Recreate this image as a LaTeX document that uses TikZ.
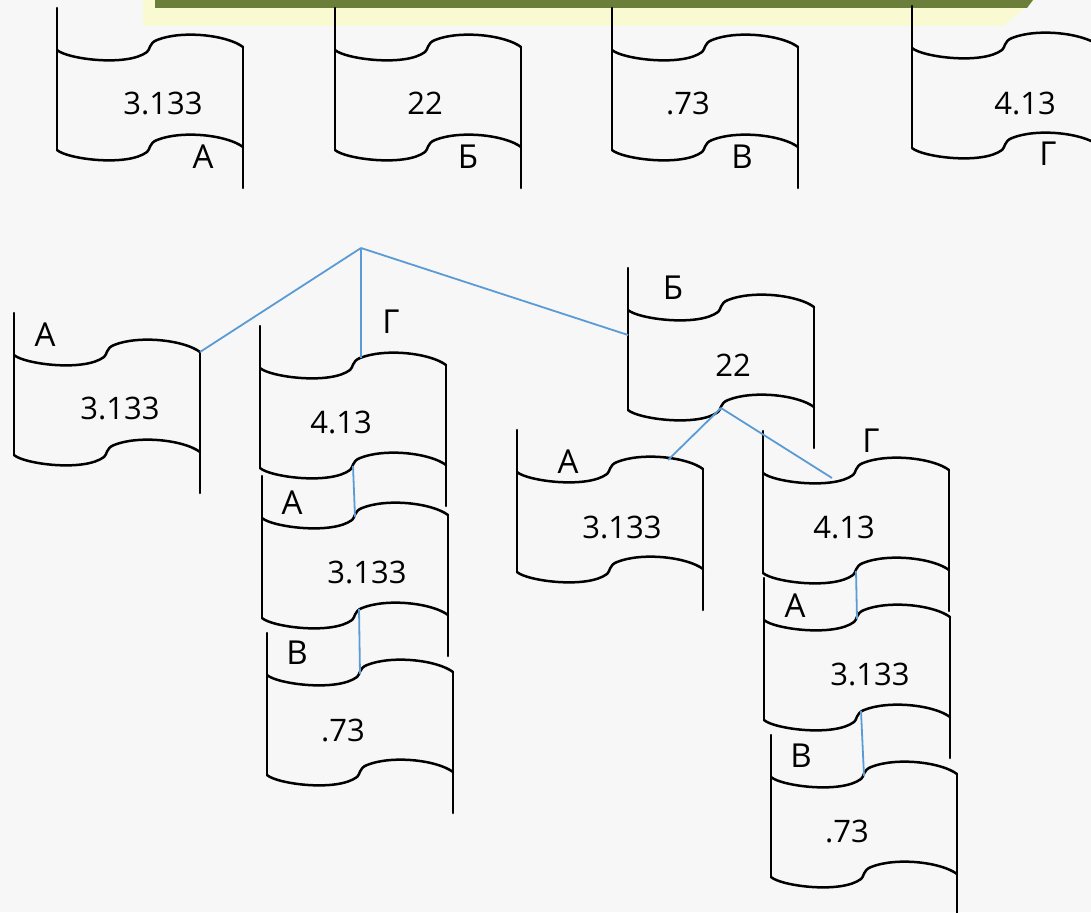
\documentclass[tikz,border=0pt]{standalone}
\usepackage{fontspec}
\setmainfont{Open Sans}
\definecolor{bgcol}{HTML}{F7F7F7}
\definecolor{bannergreen}{HTML}{6B7F3B}
\definecolor{bannercream}{HTML}{FAFAD2}
\definecolor{linkblue}{HTML}{5B9BD5}

\tikzset{
  scrollline/.style={line width=2.5pt, line join=round, line cap=round, black},
  link/.style={line width=1.8pt, linkblue},
  val/.style={font=\fontsize{31}{36}\selectfont, inner sep=0pt},
  tag/.style={font=\fontsize{33}{36}\selectfont, inner sep=0pt},
  % a scroll: origin at the top-left corner of the wavy top edge
  scroll/.pic={
    \draw[scrollline] (0,-42) -- (0,100);
    \draw[scrollline] (186,-3) -- (186,138);
    \draw[scrollline] (0,0) .. controls (10,9) and (70,17) .. (90,2)
      .. controls (93,0) and (92,-7) .. (100,-10)
      .. controls (125,-20) and (170,-15) .. (186,-3);
    \draw[scrollline] (0,100) .. controls (10,109) and (70,117) .. (90,102)
      .. controls (93,100) and (92,93) .. (100,90)
      .. controls (125,80) and (170,85) .. (186,97);
    \coordinate (-tr) at (186,-3);
    \coordinate (-bump) at (101,-10);
    \coordinate (-lmid) at (0,25);
    \coordinate (-arc) at (151,-12);
    \coordinate (-dip) at (69,5);
    \coordinate (-tnotch) at (93,-1);
    \coordinate (-bnotch) at (93,98);
    \coordinate (-bbump) at (97,91);
  }
}

\begin{document}
\begin{tikzpicture}[x=1pt, y=-1pt]
  % page and background
  \fill[bgcol] (0,0) rectangle (1091,912);
  \useasboundingbox (0,0) rectangle (1091,912);
  \clip (0,0) rectangle (1091,912);

  % title banner
  \fill[bannercream] (143,0) -- (1035,0) -- (1003,26) -- (143,26) -- cycle;
  \fill[bannergreen] (155,0) -- (1033,0) -- (1027,8) -- (155,8) -- cycle;

  % top row of scrolls
  \pic (topA) at (57,50) {scroll};
  \pic (topB) at (335,50) {scroll};
  \pic (topV) at (612,50) {scroll};
  \pic (topG) at (912,48) {scroll};
  \node[val] (topAv) at (163,103) {3.133};
  \node[tag] (topAt) at (203,157) {А};
  \node[val] (topBv) at (425,103) {22};
  \node[tag] (topBt) at (468,157) {Б};
  \node[val] (topVv) at (688,103) {.73};
  \node[tag] (topVt) at (742,157) {В};
  \node[val] (topGv) at (1025,103) {4.13};
  \node[tag] (topGt) at (1048,154) {Г};

  % tree of scrolls
  \pic (leftA) at (14,355) {scroll};
  \node[tag] (leftAt) at (45,335) {А};
  \node[val] (leftAv) at (120,408) {3.133};

  \pic (s1G) at (260,368) {scroll};
  \pic (s1A) at (262,518) {scroll};
  \pic (s1V) at (267,675) {scroll};
  \node[tag] (s1Gt) at (391,322) {Г};
  \node[val] (s1Gv) at (341,422) {4.13};
  \node[tag] (s1At) at (292,503) {А};
  \node[val] (s1Av) at (367,572) {3.133};
  \node[tag] (s1Vt) at (297,653) {В};
  \node[val] (s1Vv) at (343,730) {.73};

  \pic (B2) at (628,310) {scroll};
  \node[tag] (B2t) at (673,288) {Б};
  \node[val] (B2v) at (733,365) {22};

  \pic (A3) at (517,472) {scroll};
  \node[tag] (A3t) at (568,462) {А};
  \node[val] (A3v) at (622,527) {3.133};

  \pic (s2G) at (763,473) {scroll};
  \pic (s2A) at (764,620) {scroll};
  \pic (s2V) at (771,777) {scroll};
  \node[tag] (s2Gt) at (871,441) {Г};
  \node[val] (s2Gv) at (844,527) {4.13};
  \node[tag] (s2At) at (795,606) {А};
  \node[val] (s2Av) at (870,674) {3.133};
  \node[tag] (s2Vt) at (801,756) {В};
  \node[val] (s2Vv) at (847,831) {.73};

  % connectors
  \coordinate (apex) at (361,248);
  \draw[link] (apex) -- (leftA-tr);
  \draw[link] (apex) -- (s1G-bump);
  \draw[link] (apex) -- (B2-lmid);
  \draw[link] (B2-bnotch) -- (A3-arc);
  \draw[link] (B2-bnotch) -- (s2G-dip);
  \draw[link] (s1G-bnotch) -- (s1A-tnotch);
  \draw[link] (s1A-bbump) -- (s1V-tnotch);
  \draw[link] (s2G-bnotch) -- (s2A-tnotch);
  \draw[link] (s2A-bbump) -- (s2V-tnotch);
\end{tikzpicture}
\end{document}
